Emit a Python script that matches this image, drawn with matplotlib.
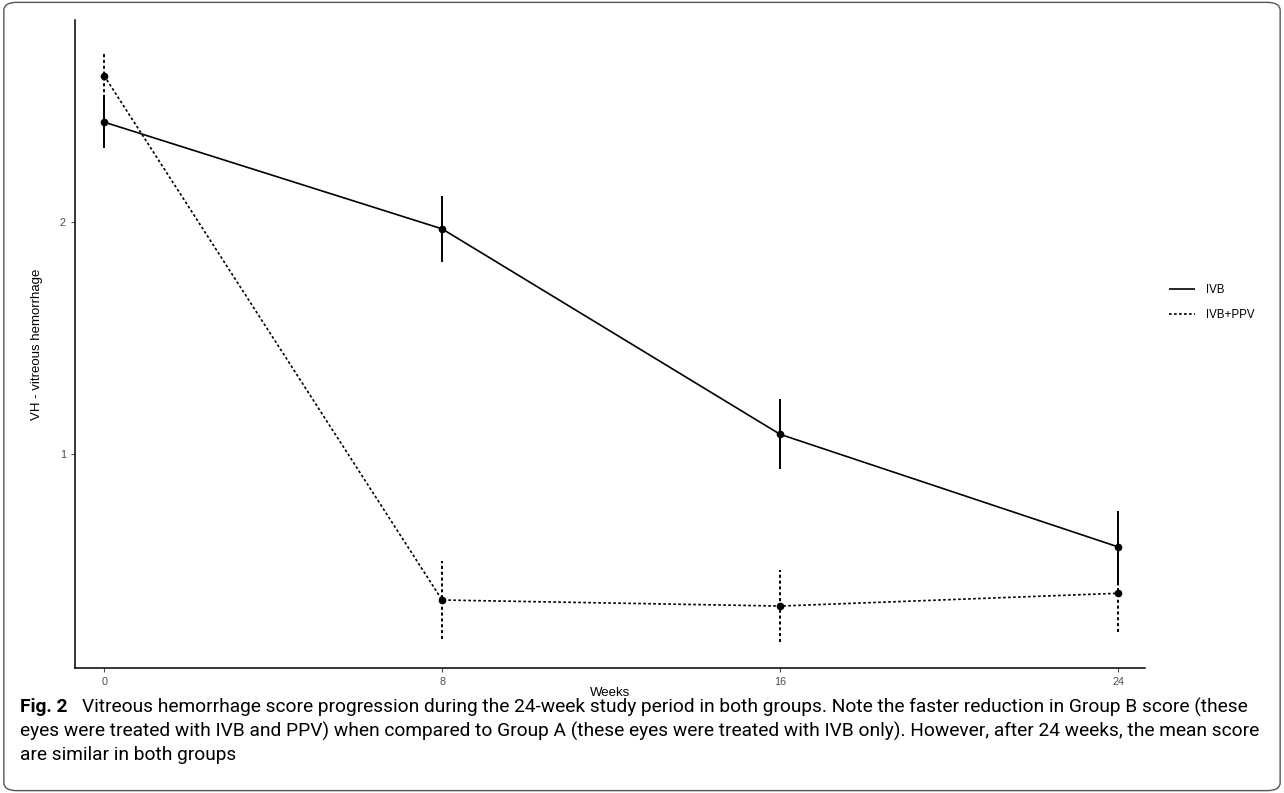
import matplotlib.pyplot as plt
from matplotlib.patches import FancyBboxPatch

# values (mean score and error half-width)
weeks = [0, 8, 16, 24]
ivb_mean = [2.43, 1.97, 1.085, 0.60]
ivb_err = [0.11, 0.142, 0.151, 0.155]
ppv_mean = [2.63, 0.371, 0.345, 0.40]
ppv_err = [0.095, 0.166, 0.155, 0.168]
group_names = ["IVB", "IVB+PPV"]
yticks = [1, 2]

caption_lines = [
    "Vitreous hemorrhage score progression during the 24-week study period in both groups. Note the faster reduction in Group B score (these",
    "eyes were treated with IVB and PPV) when compared to Group A (these eyes were treated with IVB only). However, after 24 weeks, the mean score",
    "are similar in both groups",
]


def main():
    plt.rcParams["font.family"] = ["Liberation Sans", "DejaVu Sans"]
    fig = plt.figure(figsize=(12.84, 7.93), dpi=100)
    ax = fig.add_axes([0.0584, 0.1576, 0.8334, 0.8172])

    styles = [(0, (1, 0)), (0, (1.6, 1.4))]
    for mean, err, name, ls in zip(
        [ivb_mean, ppv_mean], [ivb_err, ppv_err], group_names, styles
    ):
        ax.plot(weeks, mean, color="black", lw=1.2, linestyle=ls, label=name)
        ax.vlines(weeks, [m - e for m, e in zip(mean, err)],
                  [m + e for m, e in zip(mean, err)],
                  color="black", lw=1.4, linestyles=[ls])
        ax.plot(weeks, mean, "o", color="black", ms=4.5)

    ax.set_xlim(-0.69, 24.64)
    ax.set_ylim(0.078, 2.87)
    ax.set_xticks(weeks)
    ax.set_yticks(yticks)
    ax.tick_params(colors="#4d4d4d", labelsize=7.8, length=3, width=0.8)
    for lab in ax.get_xticklabels() + ax.get_yticklabels():
        lab.set_color("#4d4d4d")
    for s in ["top", "right"]:
        ax.spines[s].set_visible(False)
    for s in ["left", "bottom"]:
        ax.spines[s].set_linewidth(1.1)
    ax.set_xlabel("Weeks", fontsize=9.5, labelpad=0)
    ax.set_ylabel("VH - vitreous hemorrhage", fontsize=9.5, labelpad=12)

    ax.legend(loc="center left", bbox_to_anchor=(1.013, 0.564), frameon=False,
              fontsize=8.3, handlelength=2.2, handletextpad=1.0, labelspacing=1.2)

    # caption
    cap_font = dict(fontsize=13.75, va="center", family="Roboto")
    y0 = 1 - 707 / 793
    fig.text(20 / 1284, y0, "Fig. 2", fontweight="bold", **cap_font)
    fig.text(82 / 1284, y0, caption_lines[0], **cap_font)
    for i, line in enumerate(caption_lines[1:]):
        fig.text(20 / 1284, 1 - (731 + 24 * i) / 793, line, **cap_font)

    # rounded frame around the whole figure
    frame = FancyBboxPatch((0.003, 0.003), 0.994, 0.994,
                           boxstyle="round,pad=0,rounding_size=0.01",
                           transform=fig.transFigure, fill=False,
                           edgecolor="#555555", lw=1.0)
    fig.patches.append(frame)

    fig.savefig("out.png", dpi=100)


if __name__ == "__main__":
    main()
